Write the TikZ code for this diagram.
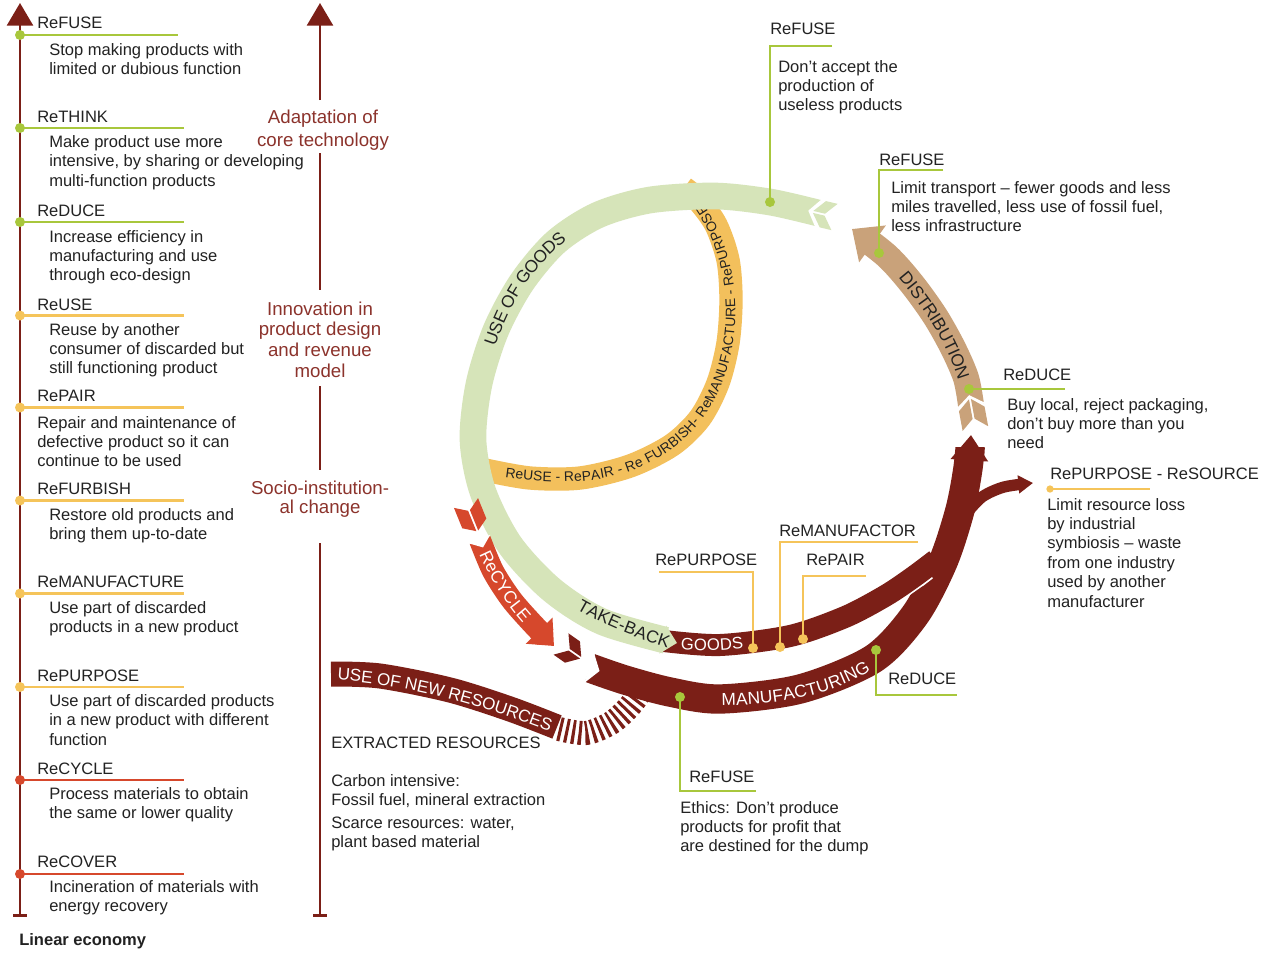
\documentclass[tikz,border=0pt]{standalone}
\usepackage{fontspec}
\setmainfont{Liberation Sans}
\usetikzlibrary{arrows.meta,decorations.text}

\definecolor{maroon}{HTML}{7B1F17}
\definecolor{axislabel}{HTML}{8C332C}
\definecolor{ringgreen}{HTML}{D6E4B9}
\definecolor{lime}{HTML}{A8C73C}
\definecolor{amber}{HTML}{F5C45A}
\definecolor{goldband}{HTML}{F3C05C}
\definecolor{brick}{HTML}{D6482C}
\definecolor{tanband}{HTML}{C9A27A}
\definecolor{ink}{HTML}{222222}

% stacked lines whose first baseline is the node's baseline
\newcommand\lines[1]{\begin{tabular}[t]{@{}l@{}}#1\end{tabular}}
\newcommand\clines[1]{\begin{tabular}[t]{@{}c@{}}#1\end{tabular}}

\tikzset{
  body/.style={inner sep=0pt, anchor=base west, text=ink,
    font=\fontsize{12.4}{14.6}\selectfont},
  axistext/.style={inner sep=0pt, anchor=base, text=axislabel},
  rule/.style={line width=2pt},
  bead/.style={circle, fill=#1, inner sep=0pt, minimum size=7.5pt},
  smallbead/.style={circle, fill=#1, inner sep=0pt, minimum size=5.5pt},
  axisline/.style={maroon, line width=2pt},
}

% one rung of the ladder: name, colour, heading baseline, rule y, rule end,
% text x, text baseline, heading, description
\newcommand\rung[9]{%
  \coordinate (#1-a) at (20,#4);
  \coordinate (#1-b) at (#5,#4);
  \draw[#2, rule] (#1-a) -- (#1-b);
  \node[bead=#2] (#1-dot) at (#1-a) {};
  \node[body] (#1-head) at (37,#3) {#8};
  \node[body] (#1-text) at (#6,#7) {\lines{#9}};
}

% chevron split in two halves, pointing along local x
\newcommand\chevron[5]{% colour, half width, thickness, depth, half gap
  \fill[#1] (0,#2) -- (#3,#2) -- ({#3+#4},#5) -- (#4,#5) -- cycle;
  \fill[#1] (0,-#2) -- (#3,-#2) -- ({#3+#4},-#5) -- (#4,-#5) -- cycle;
}

% text written along a band: colour, size, raise, text
\tikzset{
  bandtext/.style n args={4}{decorate, decoration={text along path, text align=center,
    raise=#3, text color=#1, text={|\fontsize{#2}{#2}\selectfont|#4}}},
}

\begin{document}
\begin{tikzpicture}[x=0.75pt, y=-0.75pt]
\path[use as bounding box, fill=white] (0,0) rectangle (1279,954);

% ================= left ladder =================
\coordinate (ax1-foot) at (20,917);
\coordinate (ax1-tip) at (20,3);
\draw[axisline, {Bar[width=10pt]}-{Triangle[length=17pt,width=19.5pt]}] (ax1-foot) -- (ax1-tip);

\rung{refuse}{lime}{28}{35}{178}{49}{55}{ReFUSE}{Stop making products with\\limited or dubious function}
\rung{rethink}{lime}{122.5}{128}{184}{49}{147.5}{ReTHINK}{Make product use more\\intensive, by sharing or developing\\multi-function products}
\rung{reduce}{lime}{216}{222}{184}{49}{242}{ReDUCE}{Increase efficiency in\\manufacturing and use\\through eco-design}
\rung{reuse}{amber}{310}{315.5}{184}{49}{335}{ReUSE}{Reuse by another\\consumer of discarded but\\still functioning product}
\rung{repair}{amber}{401}{407.5}{184}{37}{428}{RePAIR}{Repair and maintenance of\\defective product so it can\\continue to be used}
\rung{refurbish}{amber}{494}{500.5}{184}{49}{520.5}{ReFURBISH}{Restore old products and\\bring them up-to-date}
\rung{remanufacture}{amber}{587.5}{593.5}{184}{49}{613}{ReMANUFACTURE}{Use part of discarded\\products in a new product}
\rung{repurpose}{amber}{681}{687}{184}{49}{706.5}{RePURPOSE}{Use part of discarded products\\in a new product with different\\function}
\rung{recycle}{brick}{774}{780}{184}{49}{799}{ReCYCLE}{Process materials to obtain\\the same or lower quality}
\rung{recover}{brick}{867.5}{874}{184}{49}{892}{ReCOVER}{Incineration of materials with\\energy recovery}

\node[body, font=\bfseries\fontsize{12.4}{14.6}\selectfont] (linear) at (19,945) {Linear economy};

% ================= second axis =================
\node[axistext, font=\fontsize{14}{17.3}\selectfont] (adapt) at (323,123) {\clines{Adaptation of\\core technology}};
\node[axistext, font=\fontsize{14}{15.6}\selectfont] (innov) at (320,315) {\clines{Innovation in\\product design\\and revenue\\model}};
\node[axistext, font=\fontsize{14}{14.2}\selectfont] (socio) at (320,494) {\clines{Socio-institution-\\al change}};
\coordinate (ax2-tip) at (320,3);
\coordinate (ax2-s1) at (320,100);
\coordinate (ax2-s2) at (320,153);
\coordinate (ax2-s3) at (320,290);
\coordinate (ax2-s4) at (320,386);
\coordinate (ax2-s5) at (320,470);
\coordinate (ax2-s6) at (320,543);
\coordinate (ax2-foot) at (320,917);
\draw[axisline, -{Triangle[length=17pt,width=19.5pt]}] (ax2-s1) -- (ax2-tip);
\draw[axisline] (ax2-s2) -- (ax2-s3);
\draw[axisline] (ax2-s4) -- (ax2-s5);
\draw[axisline, {Bar[width=10pt]}-] (ax2-foot) -- (ax2-s6);

% ================= inner loop =================
\draw[goldband, line width=17.5pt] plot[smooth] coordinates {(485,470) (530,478) (580,478) (630,466) (672,445) (700,418) (718,383) (728,343) (731,300) (728,260) (716,225) (698,200) (684,188)};
\path[bandtext={ink}{10.4}{-3.7pt}{ReUSE - RePAIR - Re FURBISH- ReMANUFACTURE - RePURPOSE}]
  (468,466) .. controls (521,476.3) and (579.2,484.2) .. (630,466)
  .. controls (684.5,446.5) and (719,400.3) .. (728,343)
  .. controls (737.6,281.7) and (719.7,219.9) .. (674,178);

% ================= manufacturing side =================
% stripes fanning from the extraction band
\draw[maroon, line width=18pt, dash pattern=on 2.3pt off 2.7pt] plot[smooth] coordinates {(559,729) (586,733) (611,723) (629,707) (642,690)};
% use of new resources
\draw[maroon, line width=18.75pt] plot[smooth] coordinates {(331,674) (380,676) (450,690) (510,709) (557,727)};
% manufacturing arrow
\draw[maroon, line width=22pt, -{Triangle[length=19pt,width=27pt]}] plot[smooth] coordinates {(590,668) (625,680) (670,692) (720,699) (800,689) (873,659) (915,615) (943,562) (960,510) (968,468) (971,435)};
\begin{scope}[shift={(590,668)}, rotate=-17.5]
  \fill[white] (-1,16) -- (10,0) -- (-1,-16) -- cycle;
\end{scope}
\begin{scope}[shift={(561,644)}, rotate=-35]
  \chevron{maroon}{13}{14}{10}{1}
\end{scope}
% take-back goods joining the manufacturing arrow
\draw[white, line width=19pt, shorten >=20pt] plot[smooth] coordinates {(664,641) (720,645) (790,636) (845,617) (885,596) (912,578) (936,560)};
\draw[maroon, line width=16.5pt] plot[smooth] coordinates {(664,641) (720,645) (790,636) (845,617) (885,596) (912,578) (936,560)};
% branch to industrial symbiosis
\draw[maroon, line width=8.5pt, -{Triangle[length=11pt,width=13pt]}] plot[smooth] coordinates {(965,515) (982,497) (1004,487) (1033,483)};

% ================= distribution =================
\draw[tanband, line width=19.5pt, -{Triangle[length=19pt,width=33pt]}] plot[smooth] coordinates {(971,405) (966,378) (953,348) (935,316) (912,284) (887,256) (852,229)};
\begin{scope}[shift={(971,405)}, rotate=100.5]
  \fill[white] (-1,15) -- (10,0) -- (-1,-15) -- cycle;
\end{scope}
\begin{scope}[shift={(975.4,428.6)}, rotate=100.5]
  \chevron{tanband}{13}{20}{10}{1}
\end{scope}

% ================= use of goods ring =================
\draw[ringgreen, line width=20pt, -{Triangle[length=11pt,width=21pt]}] plot[smooth] coordinates {(818,213) (770,202) (715,196) (650,200) (598,215) (556,242) (522,282) (496,330) (479,384) (473,440) (483,492) (510,545) (552,590) (603,622) (677,643)};
\begin{scope}[shift={(818,213)}, rotate=166.6]
  \fill[white] (-1,15) -- (10,0) -- (-1,-15) -- cycle;
\end{scope}
\begin{scope}[shift={(834.5,217)}, rotate=166.6]
  \chevron{ringgreen}{13.5}{12}{10}{1}
\end{scope}

% ================= recycle =================
\draw[brick, line width=16.5pt, -{Triangle[length=16pt,width=27pt]}] plot[smooth] coordinates {(480,540) (493,571) (511,599) (531,622) (554,646)};
\begin{scope}[shift={(480,540)}, rotate=-67.9]
  \fill[white] (-1,11.5) -- (8,0) -- (-1,-11.5) -- cycle;
\end{scope}
\begin{scope}[shift={(466,503)}, rotate=-67.9]
  \chevron{brick}{13}{22}{8}{1}
\end{scope}

% ================= band labels =================
\path[bandtext={ink}{13}{-4.6pt}{USE OF GOODS}]
  (479,384) .. controls (494.4,310.6) and (529.5,245.6) .. (598,215);
\path[bandtext={ink}{13}{-4.6pt}{DISTRIBUTION}]
  (890,259) .. controls (926.6,300) and (958.2,344) .. (969,398);
\path[bandtext={white}{13}{-4.6pt}{ReCYCLE}]
  (481,543) .. controls (493.4,573.6) and (511,602.4) .. (534,626);
\path[bandtext={ink}{13}{-4.6pt}{TAKE-BACK}]
  (570,598) .. controls (603.9,619.3) and (641.6,633.8) .. (680,645);
\path[bandtext={white}{12.5}{-4.4pt}{GOODS}]
  (672,643) .. controls (698,646) and (726,646) .. (752,641);
\path[bandtext={white}{13}{-4.6pt}{MANUFACTURING}]
  (700,699) .. controls (763,701) and (837,694) .. (885,652);
\path[bandtext={white}{12.8}{-4.6pt}{USE OF NEW RESOURCES}]
  (318,673) .. controls (404,675) and (490,701) .. (570,733);

% ================= annotations on the cycle =================
% refuse (top)
\node[body] (rf1-head) at (770,34) {ReFUSE};
\node[body] (rf1-text) at (778,72) {\lines{Don’t accept the\\production of\\useless products}};
\coordinate (rf1-end) at (832,46);
\coordinate (rf1-knee) at (770,46);
\coordinate (rf1-pin) at (770,202);
\draw[lime, rule] (rf1-end) -- (rf1-knee) -- (rf1-pin);
\node[bead=lime] (rf1-dot) at (rf1-pin) {};

% refuse (distribution)
\node[body] (rf2-head) at (879,165) {ReFUSE};
\node[body] (rf2-text) at (891,193) {\lines{Limit transport -- fewer goods and less\\miles travelled, less use of fossil fuel,\\less infrastructure}};
\coordinate (rf2-end) at (943,170);
\coordinate (rf2-knee) at (879,170);
\coordinate (rf2-pin) at (879,253);
\draw[lime, rule] (rf2-end) -- (rf2-knee) -- (rf2-pin);
\node[bead=lime] (rf2-dot) at (rf2-pin) {};

% reduce (distribution)
\node[body] (rd1-head) at (1003,380) {ReDUCE};
\node[body] (rd1-text) at (1007,410) {\lines{Buy local, reject packaging,\\don’t buy more than you\\need}};
\coordinate (rd1-pin) at (969,389);
\coordinate (rd1-end) at (1065,389);
\draw[lime, rule] (rd1-pin) -- (rd1-end);
\node[bead=lime] (rd1-dot) at (rd1-pin) {};

% repurpose - resource
\node[body] (rs-head) at (1050,479) {RePURPOSE - ReSOURCE};
\node[body] (rs-text) at (1047,510) {\lines{Limit resource loss\\by industrial\\symbiosis -- waste\\from one industry\\used by another\\manufacturer}};
\coordinate (rs-pin) at (1050,489);
\coordinate (rs-end) at (1150,489);
\draw[amber, rule] (rs-pin) -- (rs-end);
\node[smallbead=amber] (rs-dot) at (rs-pin) {};

% remanufactor
\node[body] (rm-head) at (779,536) {ReMANUFACTOR};
\coordinate (rm-end) at (918,542);
\coordinate (rm-knee) at (780,542);
\coordinate (rm-pin) at (780,647);
\draw[amber, rule] (rm-end) -- (rm-knee) -- (rm-pin);
\node[bead=amber] (rm-dot) at (rm-pin) {};

% repurpose
\node[body] (rp-head) at (655,565) {RePURPOSE};
\coordinate (rp-end) at (659,572);
\coordinate (rp-knee) at (753,572);
\coordinate (rp-pin) at (753,648);
\draw[amber, rule] (rp-end) -- (rp-knee) -- (rp-pin);
\node[bead=amber] (rp-dot) at (rp-pin) {};

% repair
\node[body] (ra-head) at (806,565) {RePAIR};
\coordinate (ra-end) at (866,576);
\coordinate (ra-knee) at (803,576);
\coordinate (ra-pin) at (803,639);
\draw[amber, rule] (ra-end) -- (ra-knee) -- (ra-pin);
\node[bead=amber] (ra-dot) at (ra-pin) {};

% reduce (manufacturing)
\node[body] (rd2-head) at (888,684) {ReDUCE};
\coordinate (rd2-pin) at (876,650);
\coordinate (rd2-knee) at (876,695);
\coordinate (rd2-end) at (957,695);
\draw[lime, rule] (rd2-pin) -- (rd2-knee) -- (rd2-end);
\node[bead=lime] (rd2-dot) at (rd2-pin) {};

% refuse (manufacturing)
\node[body] (rf3-head) at (689,782) {ReFUSE};
\node[body] (rf3-text) at (680,813) {\lines{Ethics: Don’t produce\\products for profit that\\are destined for the dump}};
\coordinate (rf3-pin) at (680,697);
\coordinate (rf3-knee) at (680,791);
\coordinate (rf3-end) at (756,791);
\draw[lime, rule] (rf3-pin) -- (rf3-knee) -- (rf3-end);
\node[bead=lime] (rf3-dot) at (rf3-pin) {};

% extracted resources
\node[body] (extr) at (331,748) {EXTRACTED RESOURCES};
\node[body] (carb) at (331,786.5) {\lines{Carbon intensive:\\Fossil fuel, mineral extraction}};
\node[body] (scar) at (331,828) {\lines{Scarce resources: water,\\plant based material}};

\end{tikzpicture}
\end{document}
